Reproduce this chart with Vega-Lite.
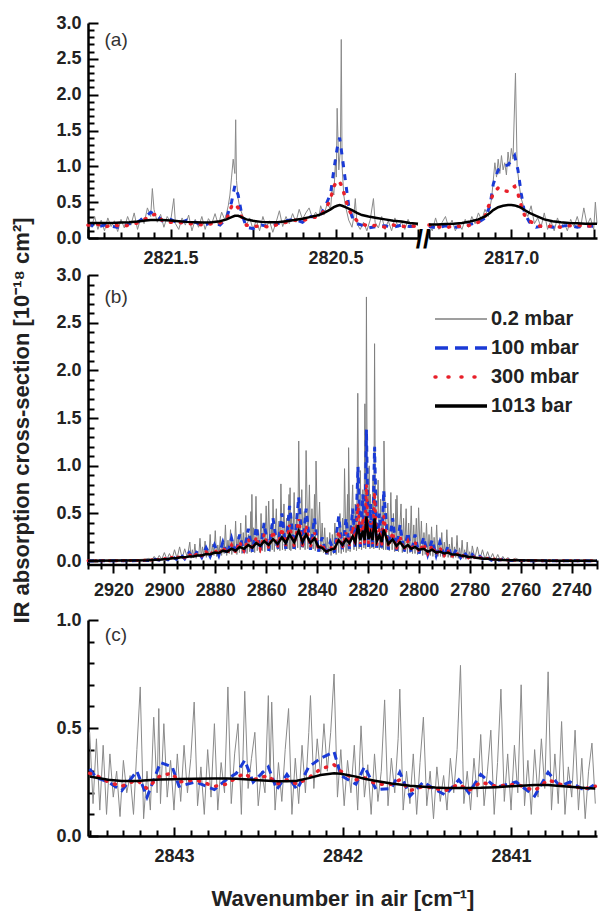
{
"$schema": "https://vega.github.io/schema/vega-lite/v6.json",
"usermeta": {"embedOptions": {"actions": false}},
"padding": {"left": 10, "top": 14, "right": 0, "bottom": 2},
"background": "white",
"config": {
 "view": {"stroke": null},
 "font": "Liberation Sans",
 "axis": {"domainColor": "#000", "domainWidth": 2.5, "tickColor": "#000", "tickWidth": 2, "tickCount": 500, "labelFont": "Liberation Sans", "labelFontWeight": "bold", "labelFontSize": 18, "labelColor": "#222", "titleFont": "Liberation Sans", "titleFontWeight": "bold", "titleFontSize": 22, "titleColor": "#222", "grid": false, "labelOverlap": false, "labelFlush": false, "labelBound": false}
},
"datasets": {
 "one": [{"k": 1}],
 "aLg": [
 {"x":2822.00,"y":0.22},{"x":2821.98,"y":0.15},{"x":2821.96,"y":0.30},{"x":2821.94,"y":0.12},{"x":2821.92,"y":0.25},{"x":2821.90,"y":0.10},{"x":2821.88,"y":0.28},{"x":2821.86,"y":0.16},{"x":2821.84,"y":0.24},{"x":2821.82,"y":0.09},{"x":2821.80,"y":0.26},{"x":2821.78,"y":0.14},{"x":2821.76,"y":0.30},{"x":2821.74,"y":0.18},{"x":2821.72,"y":0.35},{"x":2821.70,"y":0.12},{"x":2821.68,"y":0.28},{"x":2821.66,"y":0.20},{"x":2821.64,"y":0.42},{"x":2821.62,"y":0.30},{"x":2821.61,"y":0.69},{"x":2821.60,"y":0.40},{"x":2821.58,"y":0.22},{"x":2821.56,"y":0.33},{"x":2821.54,"y":0.15},{"x":2821.52,"y":0.30},{"x":2821.50,"y":0.22},{"x":2821.48,"y":0.55},{"x":2821.47,"y":0.20},{"x":2821.45,"y":0.12},{"x":2821.43,"y":0.28},{"x":2821.41,"y":0.18},{"x":2821.39,"y":0.32},{"x":2821.37,"y":0.10},{"x":2821.35,"y":0.26},{"x":2821.33,"y":0.15},{"x":2821.31,"y":0.30},{"x":2821.29,"y":0.12},{"x":2821.27,"y":0.27},{"x":2821.25,"y":0.20},{"x":2821.23,"y":0.34},{"x":2821.21,"y":0.18},{"x":2821.19,"y":0.36},{"x":2821.17,"y":0.25},{"x":2821.15,"y":0.45},{"x":2821.14,"y":0.60},{"x":2821.13,"y":0.85},{"x":2821.12,"y":1.10},{"x":2821.11,"y":0.90},{"x":2821.105,"y":1.65},{"x":2821.10,"y":0.80},{"x":2821.09,"y":0.55},{"x":2821.08,"y":0.42},{"x":2821.06,"y":0.30},{"x":2821.04,"y":0.18},{"x":2821.02,"y":0.28},{"x":2821.00,"y":0.12},{"x":2820.98,"y":0.25},{"x":2820.96,"y":0.10},{"x":2820.94,"y":0.30},{"x":2820.92,"y":0.15},{"x":2820.90,"y":0.24},{"x":2820.88,"y":0.08},{"x":2820.86,"y":0.22},{"x":2820.84,"y":0.38},{"x":2820.82,"y":0.16},{"x":2820.80,"y":0.30},{"x":2820.78,"y":0.20},{"x":2820.76,"y":0.34},{"x":2820.74,"y":0.22},{"x":2820.72,"y":0.40},{"x":2820.70,"y":0.26},{"x":2820.68,"y":0.35},{"x":2820.66,"y":0.42},{"x":2820.64,"y":0.28},{"x":2820.62,"y":0.36},{"x":2820.60,"y":0.30},{"x":2820.59,"y":0.45},{"x":2820.57,"y":0.32},{"x":2820.55,"y":0.48},{"x":2820.53,"y":0.40},{"x":2820.52,"y":0.70},{"x":2820.51,"y":0.60},{"x":2820.50,"y":1.10},{"x":2820.495,"y":0.85},{"x":2820.49,"y":1.81},{"x":2820.48,"y":0.95},{"x":2820.47,"y":1.25},{"x":2820.465,"y":2.77},{"x":2820.46,"y":1.00},{"x":2820.45,"y":0.60},{"x":2820.44,"y":0.45},{"x":2820.42,"y":0.25},{"x":2820.40,"y":0.15},{"x":2820.39,"y":0.28},{"x":2820.38,"y":0.55},{"x":2820.37,"y":0.20},{"x":2820.35,"y":0.12},{"x":2820.33,"y":0.22},{"x":2820.31,"y":0.10},{"x":2820.29,"y":0.25},{"x":2820.27,"y":0.55},{"x":2820.26,"y":0.22},{"x":2820.24,"y":0.14},{"x":2820.22,"y":0.30},{"x":2820.20,"y":0.12},{"x":2820.18,"y":0.24},{"x":2820.16,"y":0.10},{"x":2820.14,"y":0.28},{"x":2820.12,"y":0.15},{"x":2820.10,"y":0.22},{"x":2820.08,"y":0.12},{"x":2820.06,"y":0.26},{"x":2820.04,"y":0.15},{"x":2820.02,"y":0.20},{"x":2820.00,"y":0.17}
 ],
 "aL": [
 {"x":2822.00,"b":0.20,"r":0.18,"k":0.21},{"x":2821.95,"b":0.15,"r":0.20,"k":0.21},{"x":2821.90,"b":0.18,"r":0.15,"k":0.21},{"x":2821.85,"b":0.16,"r":0.19,"k":0.21},{"x":2821.80,"b":0.14,"r":0.16,"k":0.215},{"x":2821.75,"b":0.20,"r":0.18,"k":0.22},{"x":2821.70,"b":0.22,"r":0.21,"k":0.23},{"x":2821.65,"b":0.30,"r":0.27,"k":0.245},{"x":2821.62,"b":0.36,"r":0.32,"k":0.25},{"x":2821.58,"b":0.31,"r":0.33,"k":0.25},{"x":2821.55,"b":0.24,"r":0.24,"k":0.25},{"x":2821.50,"b":0.26,"r":0.22,"k":0.245},{"x":2821.45,"b":0.20,"r":0.22,"k":0.235},{"x":2821.40,"b":0.25,"r":0.20,"k":0.225},{"x":2821.35,"b":0.22,"r":0.20,"k":0.22},{"x":2821.30,"b":0.17,"r":0.18,"k":0.215},{"x":2821.25,"b":0.22,"r":0.20,"k":0.22},{"x":2821.20,"b":0.18,"r":0.21,"k":0.235},{"x":2821.16,"b":0.28,"r":0.26,"k":0.26},{"x":2821.13,"b":0.50,"r":0.44,"k":0.29},{"x":2821.11,"b":0.73,"r":0.48,"k":0.31},{"x":2821.09,"b":0.60,"r":0.42,"k":0.31},{"x":2821.07,"b":0.35,"r":0.30,"k":0.29},{"x":2821.04,"b":0.15,"r":0.18,"k":0.26},{"x":2821.00,"b":0.13,"r":0.16,"k":0.24},{"x":2820.95,"b":0.18,"r":0.17,"k":0.225},{"x":2820.90,"b":0.16,"r":0.15,"k":0.22},{"x":2820.85,"b":0.20,"r":0.19,"k":0.22},{"x":2820.80,"b":0.24,"r":0.22,"k":0.235},{"x":2820.75,"b":0.26,"r":0.25,"k":0.25},{"x":2820.70,"b":0.22,"r":0.24,"k":0.27},{"x":2820.65,"b":0.30,"r":0.28,"k":0.295},{"x":2820.60,"b":0.28,"r":0.30,"k":0.32},{"x":2820.56,"b":0.45,"r":0.40,"k":0.36},{"x":2820.53,"b":0.62,"r":0.55,"k":0.40},{"x":2820.51,"b":0.95,"r":0.72,"k":0.43},{"x":2820.49,"b":1.25,"r":0.80,"k":0.45},{"x":2820.475,"b":1.40,"r":0.78,"k":0.46},{"x":2820.46,"b":1.15,"r":0.72,"k":0.45},{"x":2820.44,"b":0.80,"r":0.55,"k":0.43},{"x":2820.42,"b":0.45,"r":0.40,"k":0.41},{"x":2820.40,"b":0.30,"r":0.32,"k":0.39},{"x":2820.37,"b":0.20,"r":0.24,"k":0.35},{"x":2820.34,"b":0.18,"r":0.20,"k":0.32},{"x":2820.30,"b":0.14,"r":0.16,"k":0.30},{"x":2820.25,"b":0.16,"r":0.18,"k":0.28},{"x":2820.20,"b":0.17,"r":0.15,"k":0.26},{"x":2820.15,"b":0.15,"r":0.18,"k":0.24},{"x":2820.10,"b":0.18,"r":0.16,"k":0.23},{"x":2820.05,"b":0.16,"r":0.17,"k":0.21},{"x":2820.00,"b":0.17,"r":0.16,"k":0.20}
 ],
 "aRg": [
 {"x":2817.50,"y":0.18},{"x":2817.48,"y":0.10},{"x":2817.46,"y":0.28},{"x":2817.44,"y":0.12},{"x":2817.42,"y":0.22},{"x":2817.40,"y":0.30},{"x":2817.38,"y":0.14},{"x":2817.36,"y":0.25},{"x":2817.34,"y":0.10},{"x":2817.32,"y":0.20},{"x":2817.30,"y":0.12},{"x":2817.28,"y":0.26},{"x":2817.26,"y":0.15},{"x":2817.24,"y":0.30},{"x":2817.22,"y":0.20},{"x":2817.20,"y":0.35},{"x":2817.18,"y":0.25},{"x":2817.16,"y":0.40},{"x":2817.14,"y":0.30},{"x":2817.12,"y":0.55},{"x":2817.11,"y":0.80},{"x":2817.10,"y":1.05},{"x":2817.09,"y":0.85},{"x":2817.08,"y":1.10},{"x":2817.07,"y":0.90},{"x":2817.06,"y":1.15},{"x":2817.05,"y":0.95},{"x":2817.04,"y":1.05},{"x":2817.03,"y":0.88},{"x":2817.02,"y":1.20},{"x":2817.01,"y":1.00},{"x":2817.00,"y":1.25},{"x":2816.99,"y":1.10},{"x":2816.975,"y":2.30},{"x":2816.965,"y":1.00},{"x":2816.95,"y":0.70},{"x":2816.94,"y":0.55},{"x":2816.92,"y":0.40},{"x":2816.90,"y":0.30},{"x":2816.88,"y":0.45},{"x":2816.86,"y":0.20},{"x":2816.84,"y":0.28},{"x":2816.82,"y":0.15},{"x":2816.80,"y":0.35},{"x":2816.78,"y":0.12},{"x":2816.76,"y":0.24},{"x":2816.74,"y":0.10},{"x":2816.72,"y":0.28},{"x":2816.70,"y":0.14},{"x":2816.68,"y":0.22},{"x":2816.66,"y":0.10},{"x":2816.64,"y":0.26},{"x":2816.62,"y":0.16},{"x":2816.60,"y":0.30},{"x":2816.58,"y":0.14},{"x":2816.56,"y":0.42},{"x":2816.54,"y":0.18},{"x":2816.52,"y":0.28},{"x":2816.50,"y":0.12},{"x":2816.49,"y":0.50},{"x":2816.48,"y":0.20}
 ],
 "aR": [
 {"x":2817.50,"b":0.16,"r":0.18,"k":0.19},{"x":2817.45,"b":0.14,"r":0.16,"k":0.19},{"x":2817.40,"b":0.17,"r":0.14,"k":0.195},{"x":2817.35,"b":0.15,"r":0.17,"k":0.20},{"x":2817.30,"b":0.16,"r":0.16,"k":0.21},{"x":2817.25,"b":0.19,"r":0.18,"k":0.23},{"x":2817.20,"b":0.22,"r":0.22,"k":0.26},{"x":2817.16,"b":0.28,"r":0.30,"k":0.30},{"x":2817.13,"b":0.45,"r":0.50,"k":0.35},{"x":2817.11,"b":0.75,"r":0.62,"k":0.39},{"x":2817.08,"b":0.95,"r":0.70,"k":0.43},{"x":2817.05,"b":1.00,"r":0.66,"k":0.45},{"x":2817.02,"b":1.02,"r":0.65,"k":0.46},{"x":2817.00,"b":1.08,"r":0.70,"k":0.46},{"x":2816.98,"b":1.15,"r":0.72,"k":0.455},{"x":2816.96,"b":0.95,"r":0.62,"k":0.44},{"x":2816.94,"b":0.62,"r":0.45,"k":0.42},{"x":2816.92,"b":0.35,"r":0.32,"k":0.39},{"x":2816.89,"b":0.22,"r":0.24,"k":0.35},{"x":2816.85,"b":0.15,"r":0.18,"k":0.31},{"x":2816.80,"b":0.17,"r":0.15,"k":0.26},{"x":2816.75,"b":0.15,"r":0.17,"k":0.235},{"x":2816.70,"b":0.16,"r":0.15,"k":0.22},{"x":2816.65,"b":0.18,"r":0.17,"k":0.21},{"x":2816.60,"b":0.15,"r":0.18,"k":0.205},{"x":2816.55,"b":0.17,"r":0.16,"k":0.20},{"x":2816.48,"b":0.16,"r":0.18,"k":0.20}
 ],
 "bg": [
 {"x":2930,"y":0.01},{"x":2920,"y":0.01},{"x":2912,"y":0.015},{"x":2908,"y":0.02},{"x":2906,"y":0.03},{"x":2905,"y":0.01},{"x":2904,"y":0.05},{"x":2903,"y":0.01},{"x":2902,"y":0.06},{"x":2901,"y":0.02},{"x":2900,"y":0.09},{"x":2899,"y":0.02},{"x":2898,"y":0.08},{"x":2897,"y":0.02},{"x":2896,"y":0.12},{"x":2895,"y":0.03},{"x":2894,"y":0.15},{"x":2893,"y":0.03},{"x":2892,"y":0.13},{"x":2891,"y":0.04},
 {"x":2890,"y":0.20},{"x":2889.5,"y":0.03},{"x":2889,"y":0.12},{"x":2888.5,"y":0.04},{"x":2888,"y":0.18},{"x":2887.5,"y":0.03},{"x":2887,"y":0.10},{"x":2886.5,"y":0.05},{"x":2886,"y":0.24},{"x":2885.5,"y":0.04},{"x":2885,"y":0.15},{"x":2884.5,"y":0.05},{"x":2884,"y":0.21},{"x":2883.5,"y":0.04},{"x":2883,"y":0.13},{"x":2882.5,"y":0.06},{"x":2882,"y":0.28},{"x":2881.5,"y":0.05},{"x":2881,"y":0.18},{"x":2880.5,"y":0.06},{"x":2880,"y":0.32},{"x":2879.5,"y":0.05},{"x":2879,"y":0.17},{"x":2878.5,"y":0.07},{"x":2878,"y":0.26},{"x":2877.5,"y":0.06},{"x":2877,"y":0.20},{"x":2876.5,"y":0.08},{"x":2876,"y":0.38},{"x":2875.5,"y":0.06},{"x":2875,"y":0.22},{"x":2874.5,"y":0.08},{"x":2874,"y":0.33},{"x":2873.5,"y":0.07},{"x":2873,"y":0.21},{"x":2872.5,"y":0.09},{"x":2872,"y":0.42},{"x":2871.5,"y":0.07},{"x":2871,"y":0.26},{"x":2870.5,"y":0.09},{"x":2870,"y":0.40},{"x":2869.5,"y":0.08},{"x":2869,"y":0.30},{"x":2868.5,"y":0.10},{"x":2868,"y":0.48},{"x":2867.5,"y":0.08},{"x":2867,"y":0.28},{"x":2866.5,"y":0.10},{"x":2866,"y":0.52},{"x":2865.8,"y":0.09},{"x":2865.6,"y":0.70},{"x":2865.3,"y":0.10},{"x":2865,"y":0.35},{"x":2864.5,"y":0.09},{"x":2864,"y":0.68},{"x":2863.5,"y":0.11},{"x":2863,"y":0.33},{"x":2862.5,"y":0.09},{"x":2862,"y":0.50},{"x":2861.5,"y":0.11},{"x":2861,"y":0.40},{"x":2860.5,"y":0.10},{"x":2860,"y":0.58},{"x":2859.5,"y":0.12},{"x":2859,"y":0.63},{"x":2858.5,"y":0.10},{"x":2858,"y":0.38},{"x":2857.6,"y":0.12},{"x":2857.3,"y":0.65},{"x":2856.8,"y":0.10},{"x":2856,"y":0.55},{"x":2855.5,"y":0.12},{"x":2855,"y":0.42},{"x":2854.6,"y":0.11},{"x":2854.2,"y":0.81},{"x":2853.6,"y":0.12},{"x":2853,"y":0.60},{"x":2852.5,"y":0.11},{"x":2852,"y":0.45},{"x":2851.5,"y":0.13},{"x":2851,"y":0.70},{"x":2850.8,"y":0.12},{"x":2850.6,"y":0.77},{"x":2850.3,"y":0.11},{"x":2850,"y":0.50},{"x":2849.5,"y":0.13},{"x":2849,"y":0.72},{"x":2848.5,"y":0.12},{"x":2848,"y":0.48},{"x":2847.6,"y":0.14},{"x":2847.2,"y":1.26},{"x":2846.6,"y":0.12},{"x":2846,"y":0.75},{"x":2845.5,"y":0.14},{"x":2845,"y":0.52},{"x":2844.7,"y":0.12},{"x":2844.3,"y":1.16},{"x":2843.6,"y":0.13},{"x":2843,"y":0.80},{"x":2842.5,"y":0.12},{"x":2842,"y":0.55},{"x":2841.5,"y":0.13},{"x":2841,"y":0.70},{"x":2840.7,"y":0.11},{"x":2840.4,"y":1.05},{"x":2839.7,"y":0.12},{"x":2839,"y":0.62},{"x":2838.5,"y":0.10},{"x":2838,"y":0.40},{"x":2837.5,"y":0.09},{"x":2837,"y":0.35},{"x":2836.5,"y":0.07},{"x":2836,"y":0.25},{"x":2835.5,"y":0.07},{"x":2835,"y":0.30},{"x":2834.5,"y":0.06},{"x":2834,"y":0.28},{"x":2833.5,"y":0.08},{"x":2833,"y":0.40},{"x":2832.5,"y":0.07},{"x":2832,"y":0.35},{"x":2831.5,"y":0.09},{"x":2831,"y":0.50},{"x":2830.5,"y":0.08},{"x":2830,"y":0.45},{"x":2829.6,"y":0.10},{"x":2829.2,"y":0.97},{"x":2828.6,"y":0.09},{"x":2828,"y":0.70},{"x":2827.8,"y":0.11},{"x":2827.6,"y":1.19},{"x":2827,"y":0.10},{"x":2826,"y":0.80},{"x":2825.5,"y":0.12},{"x":2825,"y":0.60},{"x":2824.5,"y":0.11},{"x":2824,"y":1.76},{"x":2823.5,"y":0.13},{"x":2823,"y":0.95},{"x":2822.5,"y":0.12},{"x":2822,"y":0.75},{"x":2821.6,"y":0.14},{"x":2821.2,"y":1.65},{"x":2820.9,"y":0.13},{"x":2820.6,"y":2.77},{"x":2820.2,"y":0.15},{"x":2819.5,"y":1.00},{"x":2819.2,"y":0.13},{"x":2819,"y":0.70},{"x":2818.5,"y":0.14},{"x":2818,"y":0.90},{"x":2817.7,"y":0.13},{"x":2817.4,"y":2.28},{"x":2817,"y":0.14},{"x":2816,"y":0.85},{"x":2815.5,"y":0.12},{"x":2815,"y":0.65},{"x":2814.5,"y":0.13},{"x":2814,"y":0.70},{"x":2813.9,"y":0.12},{"x":2813.7,"y":1.26},{"x":2813,"y":0.12},{"x":2812.2,"y":0.61},{"x":2811.6,"y":0.11},{"x":2811,"y":0.72},{"x":2810.5,"y":0.12},{"x":2810,"y":0.50},{"x":2809.5,"y":0.10},{"x":2809,"y":0.65},{"x":2808.8,"y":0.11},{"x":2808.6,"y":0.69},{"x":2808,"y":0.10},{"x":2807,"y":0.60},{"x":2806.5,"y":0.09},{"x":2806,"y":0.45},{"x":2805.5,"y":0.10},{"x":2805,"y":0.55},{"x":2804.5,"y":0.08},{"x":2804,"y":0.40},{"x":2803.5,"y":0.09},{"x":2803,"y":0.58},{"x":2802.5,"y":0.08},{"x":2802,"y":0.38},{"x":2801.5,"y":0.08},{"x":2801,"y":0.45},{"x":2800.5,"y":0.07},{"x":2800.1,"y":0.56},{"x":2799.5,"y":0.08},{"x":2799,"y":0.42},{"x":2798.5,"y":0.06},{"x":2798,"y":0.30},{"x":2797.5,"y":0.07},{"x":2797,"y":0.40},{"x":2796.5,"y":0.06},{"x":2796,"y":0.28},{"x":2795.5,"y":0.06},{"x":2795,"y":0.36},{"x":2794.5,"y":0.05},{"x":2794,"y":0.25},{"x":2793.5,"y":0.06},{"x":2793,"y":0.38},{"x":2792.5,"y":0.05},{"x":2792,"y":0.22},{"x":2791.5,"y":0.05},{"x":2791,"y":0.30},{"x":2790.5,"y":0.04},{"x":2790,"y":0.20},{"x":2789.5,"y":0.05},{"x":2789,"y":0.33},{"x":2788.5,"y":0.04},{"x":2788,"y":0.18},{"x":2787.5,"y":0.04},{"x":2787,"y":0.25},{"x":2786.5,"y":0.03},{"x":2786,"y":0.15},{"x":2785.5,"y":0.04},{"x":2785,"y":0.27},{"x":2784.5,"y":0.03},{"x":2784,"y":0.14},{"x":2783.5,"y":0.03},{"x":2783,"y":0.22},{"x":2782.5,"y":0.03},{"x":2782,"y":0.12},{"x":2781.5,"y":0.02},{"x":2781,"y":0.20},{"x":2780.5,"y":0.03},{"x":2780,"y":0.10},{"x":2779.5,"y":0.02},
 {"x":2779,"y":0.16},{"x":2778,"y":0.03},{"x":2777,"y":0.15},{"x":2776,"y":0.02},{"x":2775,"y":0.12},{"x":2774,"y":0.02},{"x":2773,"y":0.10},{"x":2772,"y":0.02},{"x":2771,"y":0.08},{"x":2770,"y":0.01},{"x":2769,"y":0.07},{"x":2768,"y":0.01},{"x":2767,"y":0.05},{"x":2766,"y":0.01},{"x":2765,"y":0.04},{"x":2764,"y":0.01},{"x":2762,"y":0.03},{"x":2760,"y":0.01},{"x":2755,"y":0.015},{"x":2750,"y":0.01},{"x":2740,"y":0.01},{"x":2730,"y":0.01}
 ],
 "bw": [
 {"x":2930,"b":0.003,"r":0.004,"k":0.004},{"x":2915,"b":0.005,"r":0.006,"k":0.006},{"x":2906,"b":0.008,"r":0.01,"k":0.01},{"x":2903.6,"b":0.02,"r":0.02,"k":0.015},{"x":2902,"b":0.01,"r":0.015,"k":0.015},{"x":2900.3,"b":0.035,"r":0.03,"k":0.02},{"x":2898.6,"b":0.015,"r":0.02,"k":0.022},{"x":2897,"b":0.05,"r":0.04,"k":0.03},{"x":2895.3,"b":0.02,"r":0.03,"k":0.03},{"x":2893.6,"b":0.07,"r":0.055,"k":0.04},{"x":2892,"b":0.025,"r":0.035,"k":0.04},{"x":2890.3,"b":0.09,"r":0.07,"k":0.05},{"x":2888.6,"b":0.03,"r":0.045,"k":0.05},{"x":2887,"b":0.11,"r":0.085,"k":0.06},{"x":2885.3,"b":0.04,"r":0.055,"k":0.06},{"x":2883.6,"b":0.14,"r":0.10,"k":0.075},{"x":2882,"b":0.05,"r":0.065,"k":0.07},{"x":2880.3,"b":0.17,"r":0.12,"k":0.09},{"x":2878.6,"b":0.06,"r":0.075,"k":0.085},{"x":2877,"b":0.20,"r":0.145,"k":0.11},{"x":2875.3,"b":0.07,"r":0.085,"k":0.10},{"x":2873.6,"b":0.24,"r":0.17,"k":0.13},{"x":2872,"b":0.08,"r":0.095,"k":0.11},{"x":2870.4,"b":0.28,"r":0.20,"k":0.15},{"x":2868.7,"b":0.09,"r":0.11,"k":0.13},{"x":2867,"b":0.34,"r":0.23,"k":0.17},{"x":2865.4,"b":0.10,"r":0.12,"k":0.14},{"x":2863.9,"b":0.36,"r":0.25,"k":0.19},{"x":2862.3,"b":0.11,"r":0.13,"k":0.16},{"x":2860.8,"b":0.40,"r":0.28,"k":0.21},{"x":2859,"b":0.11,"r":0.14,"k":0.17},{"x":2857.3,"b":0.45,"r":0.31,"k":0.23},{"x":2855.5,"b":0.12,"r":0.15,"k":0.18},{"x":2853.8,"b":0.50,"r":0.34,"k":0.25},{"x":2852.3,"b":0.13,"r":0.16,"k":0.19},{"x":2850.8,"b":0.58,"r":0.38,"k":0.28},{"x":2849,"b":0.13,"r":0.16,"k":0.20},{"x":2847.2,"b":0.67,"r":0.44,"k":0.32},{"x":2845.7,"b":0.13,"r":0.16,"k":0.20},{"x":2844.3,"b":0.55,"r":0.37,"k":0.28},{"x":2842.6,"b":0.12,"r":0.15,"k":0.19},{"x":2841,"b":0.45,"r":0.30,"k":0.24},{"x":2839.5,"b":0.10,"r":0.12,"k":0.15},{"x":2838,"b":0.25,"r":0.18,"k":0.14},{"x":2836.4,"b":0.07,"r":0.09,"k":0.10},{"x":2834.8,"b":0.20,"r":0.15,"k":0.12},{"x":2833.2,"b":0.09,"r":0.11,"k":0.13},{"x":2831.5,"b":0.47,"r":0.31,"k":0.22},{"x":2830,"b":0.11,"r":0.14,"k":0.17},{"x":2828.6,"b":0.45,"r":0.30,"k":0.23},{"x":2827.3,"b":0.13,"r":0.16,"k":0.19},{"x":2826,"b":0.55,"r":0.36,"k":0.26},{"x":2825,"b":0.14,"r":0.17,"k":0.20},{"x":2823.9,"b":0.99,"r":0.60,"k":0.38},{"x":2823,"b":0.15,"r":0.18,"k":0.22},{"x":2822,"b":0.70,"r":0.45,"k":0.32},{"x":2821.3,"b":0.15,"r":0.18,"k":0.22},{"x":2820.6,"b":1.38,"r":0.80,"k":0.47},{"x":2819.8,"b":0.15,"r":0.19,"k":0.23},{"x":2819,"b":0.60,"r":0.40,"k":0.30},{"x":2818.2,"b":0.15,"r":0.18,"k":0.22},{"x":2817.4,"b":1.20,"r":0.72,"k":0.45},{"x":2816.5,"b":0.14,"r":0.17,"k":0.21},{"x":2815.5,"b":0.50,"r":0.34,"k":0.27},{"x":2814.6,"b":0.13,"r":0.16,"k":0.20},{"x":2813.8,"b":0.74,"r":0.47,"k":0.33},{"x":2812,"b":0.12,"r":0.15,"k":0.18},{"x":2810.3,"b":0.45,"r":0.30,"k":0.23},{"x":2808.8,"b":0.11,"r":0.13,"k":0.16},{"x":2807.4,"b":0.38,"r":0.26,"k":0.20},{"x":2805.8,"b":0.10,"r":0.12,"k":0.14},{"x":2804.3,"b":0.30,"r":0.21,"k":0.17},{"x":2803,"b":0.09,"r":0.11,"k":0.13},{"x":2801.5,"b":0.28,"r":0.20,"k":0.15},{"x":2800,"b":0.08,"r":0.10,"k":0.12},{"x":2798.1,"b":0.25,"r":0.18,"k":0.13},{"x":2796.5,"b":0.07,"r":0.08,"k":0.10},{"x":2794.8,"b":0.22,"r":0.16,"k":0.12},{"x":2793.2,"b":0.06,"r":0.07,"k":0.09},{"x":2791.7,"b":0.20,"r":0.14,"k":0.10},{"x":2790,"b":0.05,"r":0.06,"k":0.08},{"x":2788.5,"b":0.16,"r":0.11,"k":0.09},{"x":2787,"b":0.04,"r":0.05,"k":0.07},{"x":2785.3,"b":0.12,"r":0.09,"k":0.07},{"x":2783.6,"b":0.035,"r":0.04,"k":0.06},{"x":2782,"b":0.09,"r":0.07,"k":0.055},{"x":2780.5,"b":0.03,"r":0.035,"k":0.045},{"x":2779,"b":0.07,"r":0.055,"k":0.045},{"x":2777.5,"b":0.02,"r":0.03,"k":0.035},{"x":2776,"b":0.05,"r":0.04,"k":0.03},{"x":2774.5,"b":0.015,"r":0.02,"k":0.025},{"x":2773,"b":0.04,"r":0.03,"k":0.025},{"x":2771.5,"b":0.01,"r":0.015,"k":0.02},{"x":2770,"b":0.03,"r":0.025,"k":0.018},{"x":2768.5,"b":0.01,"r":0.012,"k":0.015},{"x":2767,"b":0.02,"r":0.018,"k":0.013},{"x":2764,"b":0.008,"r":0.01,"k":0.01},{"x":2755,"b":0.005,"r":0.006,"k":0.006},{"x":2745,"b":0.004,"r":0.005,"k":0.005},{"x":2730,"b":0.003,"r":0.004,"k":0.004}
 ],
 "cg": [
 {"x":2843.50,"y":0.48},{"x":2843.48,"y":0.15},{"x":2843.46,"y":0.45},{"x":2843.44,"y":0.12},{"x":2843.42,"y":0.42},{"x":2843.40,"y":0.10},{"x":2843.38,"y":0.38},{"x":2843.36,"y":0.18},{"x":2843.34,"y":0.30},{"x":2843.32,"y":0.09},{"x":2843.30,"y":0.35},{"x":2843.28,"y":0.20},{"x":2843.26,"y":0.28},{"x":2843.24,"y":0.10},{"x":2843.22,"y":0.40},{"x":2843.20,"y":0.69},{"x":2843.18,"y":0.08},{"x":2843.16,"y":0.30},{"x":2843.14,"y":0.12},{"x":2843.12,"y":0.55},{"x":2843.10,"y":0.20},{"x":2843.09,"y":0.59},{"x":2843.08,"y":0.15},{"x":2843.06,"y":0.52},{"x":2843.04,"y":0.18},{"x":2843.02,"y":0.35},{"x":2843.00,"y":0.12},{"x":2842.98,"y":0.38},{"x":2842.96,"y":0.16},{"x":2842.94,"y":0.42},{"x":2842.92,"y":0.20},{"x":2842.90,"y":0.36},{"x":2842.88,"y":0.62},{"x":2842.86,"y":0.14},{"x":2842.84,"y":0.32},{"x":2842.82,"y":0.10},{"x":2842.80,"y":0.40},{"x":2842.78,"y":0.18},{"x":2842.76,"y":0.52},{"x":2842.74,"y":0.12},{"x":2842.72,"y":0.34},{"x":2842.70,"y":0.20},{"x":2842.68,"y":0.69},{"x":2842.66,"y":0.15},{"x":2842.64,"y":0.38},{"x":2842.62,"y":0.52},{"x":2842.60,"y":0.10},{"x":2842.58,"y":0.67},{"x":2842.56,"y":0.22},{"x":2842.54,"y":0.36},{"x":2842.52,"y":0.48},{"x":2842.50,"y":0.14},{"x":2842.48,"y":0.30},{"x":2842.46,"y":0.20},{"x":2842.44,"y":0.65},{"x":2842.43,"y":0.25},{"x":2842.42,"y":0.62},{"x":2842.40,"y":0.12},{"x":2842.38,"y":0.34},{"x":2842.36,"y":0.16},{"x":2842.34,"y":0.40},{"x":2842.32,"y":0.59},{"x":2842.30,"y":0.10},{"x":2842.28,"y":0.36},{"x":2842.26,"y":0.15},{"x":2842.24,"y":0.42},{"x":2842.22,"y":0.20},{"x":2842.20,"y":0.48},{"x":2842.19,"y":0.65},{"x":2842.17,"y":0.22},{"x":2842.15,"y":0.45},{"x":2842.13,"y":0.28},{"x":2842.11,"y":0.52},{"x":2842.09,"y":0.30},{"x":2842.07,"y":0.48},{"x":2842.05,"y":0.75},{"x":2842.03,"y":0.18},{"x":2842.01,"y":0.40},{"x":2841.99,"y":0.14},{"x":2841.97,"y":0.35},{"x":2841.95,"y":0.20},{"x":2841.93,"y":0.42},{"x":2841.91,"y":0.12},{"x":2841.89,"y":0.51},{"x":2841.87,"y":0.18},{"x":2841.85,"y":0.33},{"x":2841.83,"y":0.10},{"x":2841.81,"y":0.38},{"x":2841.79,"y":0.16},{"x":2841.77,"y":0.30},{"x":2841.75,"y":0.63},{"x":2841.73,"y":0.14},{"x":2841.71,"y":0.36},{"x":2841.69,"y":0.20},{"x":2841.67,"y":0.45},{"x":2841.66,"y":0.68},{"x":2841.64,"y":0.12},{"x":2841.62,"y":0.30},{"x":2841.60,"y":0.15},{"x":2841.58,"y":0.38},{"x":2841.56,"y":0.10},{"x":2841.54,"y":0.34},{"x":2841.52,"y":0.55},{"x":2841.50,"y":0.14},{"x":2841.48,"y":0.30},{"x":2841.46,"y":0.08},{"x":2841.44,"y":0.32},{"x":2841.42,"y":0.16},{"x":2841.40,"y":0.28},{"x":2841.38,"y":0.12},{"x":2841.36,"y":0.36},{"x":2841.34,"y":0.20},{"x":2841.32,"y":0.40},{"x":2841.30,"y":0.79},{"x":2841.28,"y":0.15},{"x":2841.26,"y":0.30},{"x":2841.24,"y":0.12},{"x":2841.22,"y":0.36},{"x":2841.20,"y":0.18},{"x":2841.18,"y":0.47},{"x":2841.16,"y":0.14},{"x":2841.14,"y":0.30},{"x":2841.12,"y":0.49},{"x":2841.10,"y":0.10},{"x":2841.08,"y":0.34},{"x":2841.06,"y":0.68},{"x":2841.04,"y":0.16},{"x":2841.02,"y":0.38},{"x":2841.00,"y":0.12},{"x":2840.98,"y":0.42},{"x":2840.96,"y":0.20},{"x":2840.94,"y":0.70},{"x":2840.92,"y":0.14},{"x":2840.90,"y":0.35},{"x":2840.88,"y":0.10},{"x":2840.86,"y":0.40},{"x":2840.84,"y":0.18},{"x":2840.82,"y":0.45},{"x":2840.80,"y":0.22},{"x":2840.78,"y":0.76},{"x":2840.76,"y":0.12},{"x":2840.74,"y":0.38},{"x":2840.72,"y":0.15},{"x":2840.70,"y":0.53},{"x":2840.68,"y":0.10},{"x":2840.66,"y":0.32},{"x":2840.64,"y":0.18},{"x":2840.62,"y":0.49},{"x":2840.60,"y":0.12},{"x":2840.58,"y":0.36},{"x":2840.56,"y":0.08},{"x":2840.54,"y":0.30},{"x":2840.52,"y":0.43},{"x":2840.50,"y":0.15}
 ],
 "cw": [
 {"x":2843.50,"b":0.31,"r":0.29,"k":0.275},{"x":2843.46,"b":0.27,"r":0.28,"k":0.27},{"x":2843.39,"b":0.25,"r":0.25,"k":0.26},{"x":2843.31,"b":0.21,"r":0.23,"k":0.255},{"x":2843.22,"b":0.30,"r":0.26,"k":0.255},{"x":2843.16,"b":0.18,"r":0.22,"k":0.258},{"x":2843.08,"b":0.34,"r":0.28,"k":0.262},{"x":2843.01,"b":0.32,"r":0.29,"k":0.263},{"x":2842.97,"b":0.23,"r":0.25,"k":0.264},{"x":2842.87,"b":0.25,"r":0.26,"k":0.265},{"x":2842.76,"b":0.215,"r":0.23,"k":0.266},{"x":2842.69,"b":0.26,"r":0.24,"k":0.266},{"x":2842.63,"b":0.29,"r":0.27,"k":0.265},{"x":2842.58,"b":0.35,"r":0.29,"k":0.263},{"x":2842.53,"b":0.25,"r":0.26,"k":0.26},{"x":2842.44,"b":0.32,"r":0.28,"k":0.256},{"x":2842.39,"b":0.215,"r":0.24,"k":0.254},{"x":2842.33,"b":0.285,"r":0.26,"k":0.254},{"x":2842.27,"b":0.215,"r":0.24,"k":0.256},{"x":2842.20,"b":0.32,"r":0.27,"k":0.268},{"x":2842.13,"b":0.36,"r":0.31,"k":0.282},{"x":2842.05,"b":0.39,"r":0.33,"k":0.29},{"x":2842.01,"b":0.28,"r":0.30,"k":0.288},{"x":2841.92,"b":0.24,"r":0.26,"k":0.275},{"x":2841.87,"b":0.32,"r":0.27,"k":0.265},{"x":2841.80,"b":0.215,"r":0.24,"k":0.255},{"x":2841.71,"b":0.22,"r":0.24,"k":0.243},{"x":2841.66,"b":0.295,"r":0.26,"k":0.238},{"x":2841.60,"b":0.185,"r":0.21,"k":0.233},{"x":2841.52,"b":0.25,"r":0.23,"k":0.228},{"x":2841.45,"b":0.215,"r":0.22,"k":0.224},{"x":2841.39,"b":0.19,"r":0.21,"k":0.222},{"x":2841.31,"b":0.26,"r":0.24,"k":0.222},{"x":2841.25,"b":0.20,"r":0.21,"k":0.222},{"x":2841.18,"b":0.285,"r":0.25,"k":0.223},{"x":2841.09,"b":0.225,"r":0.23,"k":0.226},{"x":2840.97,"b":0.25,"r":0.24,"k":0.232},{"x":2840.86,"b":0.185,"r":0.21,"k":0.236},{"x":2840.78,"b":0.295,"r":0.26,"k":0.236},{"x":2840.71,"b":0.23,"r":0.24,"k":0.232},{"x":2840.65,"b":0.25,"r":0.23,"k":0.228},{"x":2840.56,"b":0.21,"r":0.22,"k":0.222},{"x":2840.50,"b":0.24,"r":0.23,"k":0.22}
 ]
},
"vconcat": [
 {
  "width": 509, "height": 215,
  "layer": [
   {"layer": [
    {"data": {"name": "aLg"}, "mark": {"type": "line", "stroke": "#8a8a8a", "strokeWidth": 1},
     "encoding": {
      "x": {"field": "x", "type": "quantitative", "scale": {"domain": [2820.0, 2822.0], "range": [0, 330], "reverse": true, "nice": false, "zero": false},
        "axis": {"orient": "bottom", "title": null, "labelOverlap": false, "tickCount": 500, "values": [2820,2820.1,2820.2,2820.3,2820.4,2820.5,2820.6,2820.7,2820.8,2820.9,2821,2821.1,2821.2,2821.3,2821.4,2821.5,2821.6,2821.7,2821.8,2821.9,2822],
         "labelExpr": "abs(datum.value-2821.5)<0.01 || abs(datum.value-2820.5)<0.01 ? format(datum.value,'.1f') : ''",
         "tickSize": {"condition": {"test": "abs(datum.value*2-round(datum.value*2))<0.01", "value": -9}, "value": -6},
         "labelPadding": 20}},
      "y": {"field": "y", "type": "quantitative", "title": null, "scale": {"domain": [0, 3], "nice": false, "zero": false},
        "axis": {"title": null, "labelOverlap": false, "tickCount": 500, "values": [0,0.1,0.2,0.3,0.4,0.5,0.6,0.7,0.8,0.9,1,1.1,1.2,1.3,1.4,1.5,1.6,1.7,1.8,1.9,2,2.1,2.2,2.3,2.4,2.5,2.6,2.7,2.8,2.9,3],
         "labelExpr": "abs(datum.value*2-round(datum.value*2))<0.001 ? format(datum.value,'.1f') : ''",
         "tickSize": {"condition": {"test": "abs(datum.value*2-round(datum.value*2))<0.001", "value": -10}, "value": -6},
         "labelPadding": 17}}
     }},
    {"data": {"name": "aL"}, "mark": {"type": "line", "stroke": "#1a3ad6", "strokeWidth": 3, "strokeDash": [6, 7]},
     "encoding": {"x": {"field": "x", "type": "quantitative"}, "y": {"field": "b", "type": "quantitative", "title": null}}},
    {"data": {"name": "aL"}, "mark": {"type": "line", "stroke": "#e8202a", "strokeWidth": 3.5, "strokeDash": [1, 9], "strokeCap": "round"},
     "encoding": {"x": {"field": "x", "type": "quantitative"}, "y": {"field": "r", "type": "quantitative", "title": null}}},
    {"data": {"name": "aL"}, "mark": {"type": "line", "stroke": "#000000", "strokeWidth": 2.5},
     "encoding": {"x": {"field": "x", "type": "quantitative"}, "y": {"field": "k", "type": "quantitative", "title": null}}},
    {"data": {"name": "one"}, "mark": {"type": "text", "text": "(a)", "align": "left", "baseline": "middle", "fontSize": 19, "font": "Liberation Sans", "color": "#333"},
     "encoding": {"x": {"datum": 2821.9}, "y": {"datum": 2.76}}},
    {"data": {"name": "one"}, "mark": {"type": "text", "text": "//", "align": "center", "baseline": "middle", "fontSize": 26, "font": "Liberation Sans", "fontWeight": "bold", "color": "#000", "dx": 5, "dy": 2},
     "encoding": {"x": {"datum": 2820.0}, "y": {"datum": 0}}}
   ]},
   {"layer": [
    {"data": {"name": "aRg"}, "mark": {"type": "line", "stroke": "#8a8a8a", "strokeWidth": 1},
     "encoding": {
      "x": {"field": "x", "type": "quantitative", "scale": {"domain": [2816.48, 2817.5], "range": [341, 509], "reverse": true, "nice": false, "zero": false},
        "axis": {"orient": "bottom", "title": null, "labelOverlap": false, "tickCount": 500, "values": [2816.5,2816.6,2816.7,2816.8,2816.9,2817,2817.1,2817.2,2817.3,2817.4,2817.5],
         "labelExpr": "abs(datum.value-2817.0)<0.01 ? format(datum.value,'.1f') : ''",
         "tickSize": {"condition": {"test": "abs(datum.value*2-round(datum.value*2))<0.01", "value": -9}, "value": -6},
         "labelPadding": 20}},
      "y": {"field": "y", "type": "quantitative", "title": null}
     }},
    {"data": {"name": "aR"}, "mark": {"type": "line", "stroke": "#1a3ad6", "strokeWidth": 3, "strokeDash": [6, 7]},
     "encoding": {"x": {"field": "x", "type": "quantitative"}, "y": {"field": "b", "type": "quantitative", "title": null}}},
    {"data": {"name": "aR"}, "mark": {"type": "line", "stroke": "#e8202a", "strokeWidth": 3.5, "strokeDash": [1, 9], "strokeCap": "round"},
     "encoding": {"x": {"field": "x", "type": "quantitative"}, "y": {"field": "r", "type": "quantitative", "title": null}}},
    {"data": {"name": "aR"}, "mark": {"type": "line", "stroke": "#000000", "strokeWidth": 2.5},
     "encoding": {"x": {"field": "x", "type": "quantitative"}, "y": {"field": "k", "type": "quantitative", "title": null}}}
   ]}
  ],
  "resolve": {"scale": {"x": "independent"}, "axis": {"x": "independent"}}
 },
 {
  "width": 509, "height": 290,
  "layer": [
   {"data": {"name": "bg"}, "mark": {"type": "line", "strokeWidth": 1},
    "encoding": {
     "x": {"field": "x", "type": "quantitative", "scale": {"domain": [2730, 2930], "reverse": true, "nice": false, "zero": false},
       "axis": {"orient": "bottom", "title": null, "labelOverlap": false, "tickCount": 500, "domain": false, "offset": -5,
        "values": [2730,2735,2740,2745,2750,2755,2760,2765,2770,2775,2780,2785,2790,2795,2800,2805,2810,2815,2820,2825,2830,2835,2840,2845,2850,2855,2860,2865,2870,2875,2880,2885,2890,2895,2900,2905,2910,2915,2920,2925,2930],
        "labelExpr": "datum.value % 20 === 0 ? format(datum.value,'d') : ''",
        "tickSize": {"condition": {"test": "datum.value % 20 === 0", "value": 13}, "value": 9},
        "labelPadding": 8}},
     "y": {"field": "y", "type": "quantitative", "title": "IR absorption cross-section [10⁻¹⁸ cm²]", "scale": {"domain": [-0.04, 3], "nice": false, "zero": false},
       "axis": {"title": "IR absorption cross-section [10⁻¹⁸ cm²]", "titlePadding": 22, "labelOverlap": false, "tickCount": 500,
        "values": [0,0.1,0.2,0.3,0.4,0.5,0.6,0.7,0.8,0.9,1,1.1,1.2,1.3,1.4,1.5,1.6,1.7,1.8,1.9,2,2.1,2.2,2.3,2.4,2.5,2.6,2.7,2.8,2.9,3],
        "labelExpr": "abs(datum.value*2-round(datum.value*2))<0.001 ? format(datum.value,'.1f') : ''",
        "tickSize": {"condition": {"test": "abs(datum.value*2-round(datum.value*2))<0.001", "value": -10}, "value": -6},
        "labelPadding": 17}},
     "color": {"datum": "0.2 mbar",
       "scale": {"domain": ["0.2 mbar", "100 mbar", "300 mbar", "1013 bar"], "range": ["#808080", "#1a3ad6", "#e8202a", "#000000"]},
       "legend": {"orient": "none", "legendX": 363, "legendY": 34, "title": null, "symbolType": "stroke", "symbolSize": 2704, "symbolStrokeWidth": 3,
        "labelFont": "Liberation Sans", "labelFontSize": 20, "labelFontWeight": "bold", "labelColor": "#222", "labelOffset": 20, "rowPadding": 9, "padding": 0,
        "encode": {"symbols": {"update": {
          "strokeDash": {"signal": "datum.value=='100 mbar' ? [13,7] : datum.value=='300 mbar' ? [1,12] : [1,0]"},
          "strokeWidth": {"signal": "datum.value=='0.2 mbar' ? 1.5 : 3.5"},
          "strokeCap": {"signal": "datum.value=='300 mbar' ? 'round' : 'butt'"}}}}}}
    }},
   {"data": {"name": "bw"}, "mark": {"type": "line", "strokeWidth": 3, "strokeDash": [6, 5]},
    "encoding": {"x": {"field": "x", "type": "quantitative"}, "y": {"field": "b", "type": "quantitative", "title": "IR absorption cross-section [10⁻¹⁸ cm²]"}, "color": {"datum": "100 mbar"}}},
   {"data": {"name": "bw"}, "mark": {"type": "line", "strokeWidth": 3, "strokeDash": [1, 6], "strokeCap": "round"},
    "encoding": {"x": {"field": "x", "type": "quantitative"}, "y": {"field": "r", "type": "quantitative", "title": "IR absorption cross-section [10⁻¹⁸ cm²]"}, "color": {"datum": "300 mbar"}}},
   {"data": {"name": "bw"}, "mark": {"type": "line", "strokeWidth": 2.5},
    "encoding": {"x": {"field": "x", "type": "quantitative"}, "y": {"field": "k", "type": "quantitative", "title": "IR absorption cross-section [10⁻¹⁸ cm²]"}, "color": {"datum": "1013 bar"}}},
   {"data": {"name": "one"}, "mark": {"type": "rule", "color": "#000", "strokeWidth": 2.5},
    "encoding": {"y": {"datum": -0.04}}},
   {"data": {"name": "one"}, "mark": {"type": "text", "text": "(b)", "align": "left", "baseline": "middle", "fontSize": 19, "font": "Liberation Sans", "color": "#333"},
    "encoding": {"x": {"datum": 2923.5}, "y": {"datum": 2.77}}}
  ]
 },
 {
  "width": 509, "height": 234,
  "layer": [
   {"data": {"name": "cg"}, "mark": {"type": "line", "stroke": "#8a8a8a", "strokeWidth": 1},
    "encoding": {
     "x": {"field": "x", "type": "quantitative", "scale": {"domain": [2840.49, 2843.51], "reverse": true, "nice": false, "zero": false},
       "axis": {"orient": "bottom", "title": "Wavenumber in air [cm⁻¹]", "titlePadding": 20, "labelOverlap": false, "tickCount": 500,
        "values": [2840.5,2840.6,2840.7,2840.8,2840.9,2841,2841.1,2841.2,2841.3,2841.4,2841.5,2841.6,2841.7,2841.8,2841.9,2842,2842.1,2842.2,2842.3,2842.4,2842.5,2842.6,2842.7,2842.8,2842.9,2843,2843.1,2843.2,2843.3,2843.4,2843.5],
        "labelExpr": "abs(datum.value-round(datum.value))<0.01 ? format(datum.value,'d') : ''",
        "tickSize": {"condition": {"test": "abs(datum.value-round(datum.value))<0.01", "value": -9}, "value": -6},
        "labelPadding": 20}},
     "y": {"field": "y", "type": "quantitative", "title": null, "scale": {"domain": [0, 1], "range": [234, 18], "nice": false, "zero": false},
       "axis": {"title": null, "labelOverlap": false, "tickCount": 500, "values": [0,0.1,0.2,0.3,0.4,0.5,0.6,0.7,0.8,0.9,1],
        "labelExpr": "abs(datum.value*2-round(datum.value*2))<0.001 ? format(datum.value,'.1f') : ''",
        "tickSize": {"condition": {"test": "abs(datum.value*2-round(datum.value*2))<0.001", "value": -10}, "value": -6},
        "labelPadding": 17}}
    }},
   {"data": {"name": "cw"}, "mark": {"type": "line", "stroke": "#1a3ad6", "strokeWidth": 3, "strokeDash": [8, 5]},
    "encoding": {"x": {"field": "x", "type": "quantitative"}, "y": {"field": "b", "type": "quantitative", "title": null}}},
   {"data": {"name": "cw"}, "mark": {"type": "line", "stroke": "#e8202a", "strokeWidth": 3.5, "strokeDash": [1, 8], "strokeCap": "round"},
    "encoding": {"x": {"field": "x", "type": "quantitative"}, "y": {"field": "r", "type": "quantitative", "title": null}}},
   {"data": {"name": "cw"}, "mark": {"type": "line", "stroke": "#000000", "strokeWidth": 2.5},
    "encoding": {"x": {"field": "x", "type": "quantitative"}, "y": {"field": "k", "type": "quantitative", "title": null}}},
   {"data": {"name": "one"}, "mark": {"type": "text", "text": "(c)", "align": "left", "baseline": "middle", "fontSize": 19, "font": "Liberation Sans", "color": "#333"},
    "encoding": {"x": {"datum": 2843.41}, "y": {"datum": 0.93}}}
  ]
 }
],
"spacing": 37,
"bounds": "flush",
"resolve": {"scale": {"color": "independent"}, "legend": {"color": "independent"}}
}
